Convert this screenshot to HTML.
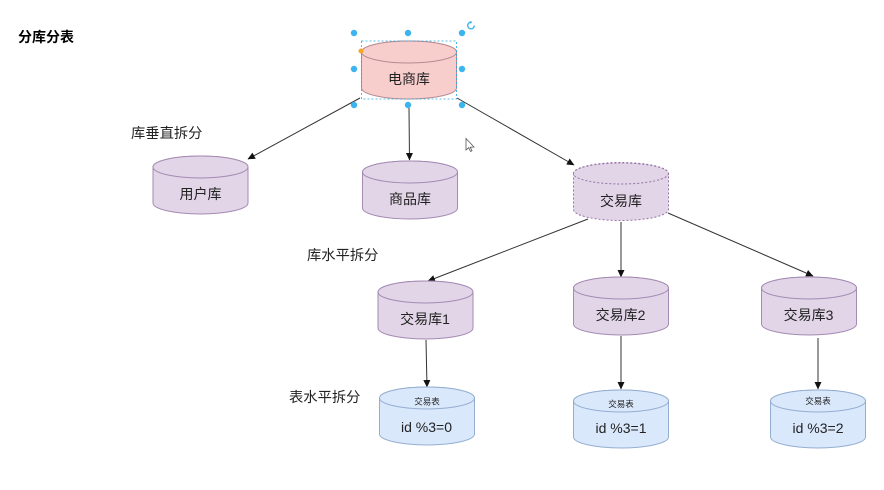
<!DOCTYPE html>
<html><head><meta charset="utf-8">
<style>
html,body{margin:0;padding:0;background:#fff;width:884px;height:490px;overflow:hidden}
svg{display:block;filter:blur(0.3px)}
text{font-family:"Liberation Sans","Noto Sans CJK SC",sans-serif;fill:#222;text-anchor:middle}
.l{text-anchor:start;font-size:14.300px}
</style></head><body>
<svg width="884" height="490" viewBox="0 0 884 490" xmlns="http://www.w3.org/2000/svg">
<defs>
<marker id="a" markerWidth="8" markerHeight="8" refX="7" refY="3.5" orient="auto" markerUnits="userSpaceOnUse"><path d="M0 0L7.5 3.5L0 7z" fill="#111"/></marker>
<g id="cp"><path d="M-47.500 -18V18A47.500 11 0 0 0 47.500 18V-18A47.500 11 0 0 0 -47.500 -18Z" fill="#e1d5e7" stroke="#a58ab3"/><ellipse cx="0" cy="-18" rx="47.500" ry="11" fill="#e1d5e7" stroke="#a58ab3"/></g>
<g id="cb"><path d="M-47.500 -18V18A47.500 11 0 0 0 47.500 18V-18A47.500 11 0 0 0 -47.500 -18Z" fill="#dae8fc" stroke="#94aed0"/><ellipse cx="0" cy="-18" rx="47.500" ry="11" fill="#dae8fc" stroke="#94aed0"/></g>
</defs>
<text class="l" x="18" y="42" style="font-weight:700;font-size:14px;fill:#000">分库分表</text>
<g stroke="#333" stroke-width="1" fill="none">
<line x1="360" y1="98" x2="248" y2="159" marker-end="url(#a)"/>
<line x1="409" y1="108" x2="409.500" y2="160" marker-end="url(#a)"/>
<line x1="457" y1="98" x2="574" y2="165" marker-end="url(#a)"/>
<line x1="588" y1="219" x2="428" y2="281" marker-end="url(#a)"/>
<line x1="621" y1="222" x2="621" y2="277" marker-end="url(#a)"/>
<line x1="668" y1="213" x2="813" y2="276" marker-end="url(#a)"/>
<line x1="426" y1="340" x2="427" y2="387" marker-end="url(#a)"/>
<line x1="621" y1="336" x2="621" y2="389" marker-end="url(#a)"/>
<line x1="818" y1="338" x2="818" y2="389" marker-end="url(#a)"/>
</g>
<path d="M361.500 52V88A47.500 11 0 0 0 456.500 88V52A47.500 11 0 0 0 361.500 52Z" fill="#f8cecc" stroke="#b78a92"/>
<ellipse cx="409" cy="52" rx="47.500" ry="11" fill="#f8cecc" stroke="#b78a92"/>
<rect x="361.500" y="41" width="95" height="58" fill="none" stroke="#29a8e0" stroke-width="0.800" stroke-dasharray="2 2"/>
<g fill="#3cb4ee">
<circle cx="354" cy="33" r="3.200"/><circle cx="408" cy="33" r="3.200"/><circle cx="462" cy="33" r="3.200"/>
<circle cx="354" cy="69" r="3.200"/><circle cx="462" cy="69" r="3.200"/>
<circle cx="354" cy="105" r="3.200"/><circle cx="408" cy="105" r="3.200"/><circle cx="462" cy="105" r="3.200"/>
</g>
<circle cx="361" cy="51" r="2.500" fill="#f5a623"/>
<circle cx="471" cy="25.500" r="3.300" fill="none" stroke="#3cb4ee" stroke-width="1.400" stroke-dasharray="16 5"/>
<path d="M469.500 21l3 .8-2 2z" fill="#3cb4ee"/>
<text x="409" y="84" font-size="14">电商库</text>
<path d="M466 138.500V150L468.700 147.700L470.500 151.500L472 150.700L470.200 147.200L474 147Z" fill="#fff" stroke="#555" stroke-width="0.800"/>
<use href="#cp" x="200.500" y="185"/><text x="200.500" y="199" font-size="14">用户库</text>
<use href="#cp" x="410" y="190"/><text x="410" y="204" font-size="14">商品库</text>
<path d="M573.500 173.500V209.500A47.500 11 0 0 0 668.500 209.500V173.500A47.500 11 0 0 0 573.500 173.500Z" fill="#e1d5e7" stroke="#9673a6" stroke-dasharray="2 2"/>
<ellipse cx="621" cy="173.500" rx="47.500" ry="10.500" fill="#e1d5e7" stroke="#9673a6" stroke-dasharray="2 2"/>
<text x="621" y="206" font-size="14">交易库</text>
<use href="#cp" x="425.500" y="310"/><text x="425" y="324" font-size="14">交易库1</text>
<use href="#cp" x="621" y="306"/><text x="620.500" y="320" font-size="14">交易库2</text>
<use href="#cp" x="809" y="306"/><text x="808.500" y="320" font-size="14">交易库3</text>
<use href="#cb" x="427" y="416"/><text x="427" y="404.500" font-size="8.500">交易表</text><text x="426.500" y="432" font-size="14">id %3=0</text>
<use href="#cb" x="621" y="419"/><text x="621" y="407" font-size="8.500">交易表</text><text x="621" y="433" font-size="14">id %3=1</text>
<use href="#cb" x="818" y="419"/><text x="818" y="404" font-size="8.500">交易表</text><text x="818" y="433" font-size="14">id %3=2</text>
<text class="l" x="131" y="138">库垂直拆分</text>
<text class="l" x="307" y="260">库水平拆分</text>
<text class="l" x="289" y="402">表水平拆分</text>
</svg>
</body></html>
